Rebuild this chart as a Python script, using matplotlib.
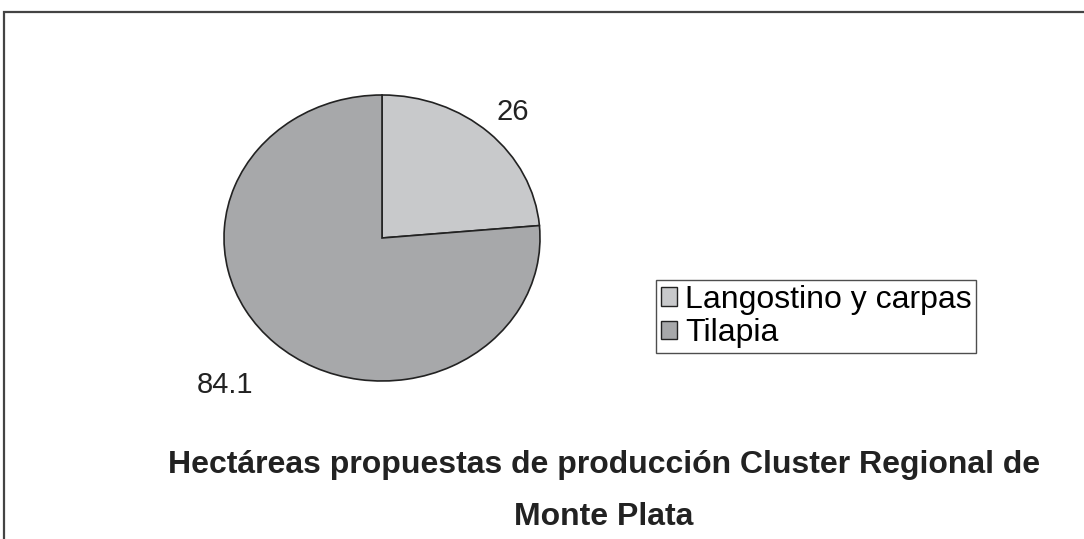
import numpy as np
import matplotlib.pyplot as plt
from matplotlib.patches import Rectangle

plt.rcParams['font.family'] = ['Liberation Sans', 'DejaVu Sans']

# data
categories = ['Langostino y carpas', 'Tilapia']
hectares = [26, 84.1]
value_labels = ['26', '84.1']
colors = ['#c8c9cb', '#a7a8aa']

W, H = 1084, 539
fig = plt.figure(figsize=(W / 100, H / 100), dpi=100)

# outer frame (only top and left edges visible in the original)
fig.add_artist(Rectangle((4 / W, -0.1), 1.2, (H - 12) / H + 0.1, transform=fig.transFigure,
                         fill=False, edgecolor='#444444', linewidth=1.6))

# pie is slightly elliptical in the original
cx, cy, rx, ry = 382, 238, 158, 143
ax = fig.add_axes([(cx - rx) / W, (H - cy - ry) / H, 2 * rx / W, 2 * ry / H])
wedges, texts = ax.pie(hectares, colors=colors, startangle=90, counterclock=False,
                       labels=value_labels, labeldistance=1.1,
                       wedgeprops=dict(edgecolor='#222222', linewidth=1.2),
                       textprops=dict(fontsize=21, color='#222222'))
ax.set_aspect('auto')
ax.set_xlim(-1, 1)
ax.set_ylim(-1, 1)
for t in texts:
    t.set_clip_on(False)
# nudge value labels like the original layout
x0, y0 = texts[0].get_position()
texts[0].set_position((x0 - 0.02, y0 + 0.07))
x1, y1 = texts[1].get_position()
texts[1].set_position((x1 - 0.07, y1 - 0.22))

leg = fig.legend(wedges, categories, loc='upper left',
                 bbox_to_anchor=(656 / W, (H - 280) / H), fontsize=23,
                 frameon=True, fancybox=False, edgecolor='#222222',
                 handlelength=0.5, handleheight=0.5, handletextpad=0.25,
                 labelspacing=0.1, borderpad=0.15, borderaxespad=0)
leg.get_frame().set_linewidth(1.0)
for h in leg.legend_handles:
    h.set_edgecolor('#222222')
    h.set_linewidth(1.0)

fig.text(604 / W, 1 - 465 / H, 'Hectáreas propuestas de producción Cluster Regional de',
         ha='center', va='center', fontsize=23, fontweight='bold', color='#222222')
fig.text(604 / W, 1 - 517 / H, 'Monte Plata',
         ha='center', va='center', fontsize=23, fontweight='bold', color='#222222')

fig.savefig('out.png', dpi=100, facecolor='white')
